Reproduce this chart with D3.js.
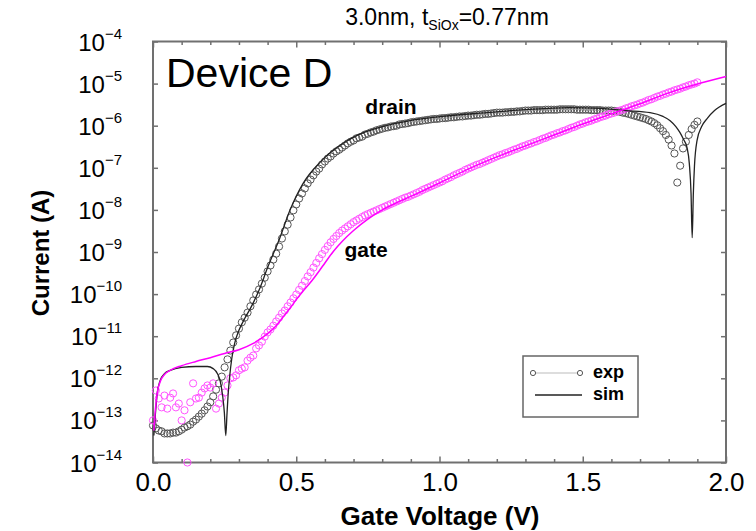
<!DOCTYPE html>
<html>
<head>
<meta charset="utf-8">
<script src="https://cdn.jsdelivr.net/npm/d3@7"></script>
<style>
  body { margin: 0; background: #fff; }
  svg { display: block; font-family: "Liberation Sans", Arial, Helvetica, sans-serif; }
</style>
</head>
<body>
<svg id="chart" width="756" height="531"></svg>
<script>
// all currents are stored as log10(I / A)

// measured sweep, 10 mV steps from 0.00 V to 1.90 V
const expVg = d3.range(191).map(i => i / 100);

const drainExp = [
  -13.12,-13.19,-13.24,-13.26,-13.31,-13.31,-13.31,-13.29,-13.29,-13.26,
  -13.22,-13.17,-13.14,-13.10,-13.03,-12.98,-12.91,-12.84,-12.76,-12.67,
  -12.57,-12.43,-12.27,-12.12,-11.96,-11.74,-11.55,-11.34,-11.15,-10.98,
  -10.82,-10.67,-10.56,-10.44,-10.29,-10.15,-10.01,-9.89,-9.75,-9.61,
  -9.46,-9.32,-9.18,-9.04,-8.87,-8.68,-8.51,-8.35,-8.18,-8.01,
  -7.87,-7.73,-7.61,-7.49,-7.37,-7.28,-7.18,-7.09,-7.02,-6.92,
  -6.85,-6.78,-6.73,-6.66,-6.61,-6.57,-6.52,-6.47,-6.42,-6.38,
  -6.35,-6.30,-6.28,-6.26,-6.21,-6.19,-6.16,-6.14,-6.11,-6.09,
  -6.07,-6.05,-6.04,-6.02,-6.01,-6.00,-5.97,-5.96,-5.95,-5.94,
  -5.92,-5.91,-5.90,-5.89,-5.88,-5.87,-5.86,-5.85,-5.84,-5.84,
  -5.83,-5.82,-5.82,-5.81,-5.80,-5.80,-5.79,-5.78,-5.78,-5.77,
  -5.76,-5.76,-5.75,-5.74,-5.74,-5.73,-5.72,-5.72,-5.71,-5.70,
  -5.69,-5.69,-5.69,-5.68,-5.68,-5.67,-5.67,-5.66,-5.66,-5.65,
  -5.64,-5.64,-5.64,-5.63,-5.63,-5.63,-5.63,-5.62,-5.62,-5.62,
  -5.62,-5.62,-5.61,-5.61,-5.61,-5.61,-5.61,-5.61,-5.62,-5.62,
  -5.62,-5.62,-5.62,-5.63,-5.63,-5.63,-5.63,-5.64,-5.64,-5.64,
  -5.64,-5.65,-5.66,-5.67,-5.69,-5.70,-5.72,-5.74,-5.76,-5.78,
  -5.80,-5.82,-5.84,-5.87,-5.90,-5.94,-5.99,-6.06,-6.13,-6.22,
  -6.33,-6.47,-6.66,-7.35,-6.95,-6.54,-6.38,-6.22,-6.08,-5.98,-5.90
];

const gateExp = [
  -13.00,-12.29,-12.48,-12.69,-12.41,-12.72,-12.46,-12.36,-12.69,-12.60,
  -13.00,-12.76,-14.00,-12.57,-12.12,-12.48,-12.46,-12.34,-12.24,-12.17,
  -12.22,-12.12,-12.72,-12.60,-12.46,-12.34,-12.17,-12.00,-11.98,-11.93,
  -11.81,-11.77,-11.74,-11.58,-11.51,-11.46,-11.29,-11.22,-11.13,-11.01,
  -10.91,-10.84,-10.75,-10.65,-10.56,-10.46,-10.39,-10.29,-10.20,-10.10,
  -10.01,-9.90,-9.80,-9.69,-9.58,-9.48,-9.37,-9.26,-9.15,-9.05,
  -8.95,-8.86,-8.77,-8.69,-8.62,-8.55,-8.49,-8.44,-8.39,-8.34,
  -8.29,-8.25,-8.21,-8.17,-8.13,-8.10,-8.07,-8.04,-8.01,-7.98,
  -7.95,-7.92,-7.89,-7.86,-7.83,-7.80,-7.77,-7.74,-7.71,-7.69,
  -7.66,-7.63,-7.60,-7.57,-7.53,-7.50,-7.47,-7.44,-7.41,-7.38,
  -7.35,-7.32,-7.28,-7.25,-7.22,-7.18,-7.15,-7.12,-7.09,-7.05,
  -7.02,-6.99,-6.96,-6.93,-6.91,-6.88,-6.85,-6.82,-6.79,-6.76,
  -6.73,-6.70,-6.68,-6.65,-6.63,-6.60,-6.57,-6.55,-6.52,-6.49,
  -6.47,-6.44,-6.42,-6.39,-6.37,-6.34,-6.31,-6.29,-6.26,-6.23,
  -6.21,-6.18,-6.16,-6.13,-6.11,-6.08,-6.05,-6.03,-6.00,-5.97,
  -5.95,-5.92,-5.90,-5.88,-5.85,-5.83,-5.80,-5.78,-5.76,-5.73,
  -5.71,-5.69,-5.66,-5.64,-5.62,-5.59,-5.57,-5.54,-5.52,-5.50,
  -5.47,-5.45,-5.42,-5.39,-5.37,-5.34,-5.31,-5.29,-5.26,-5.24,
  -5.21,-5.19,-5.16,-5.14,-5.12,-5.09,-5.07,-5.04,-5.02,-5.00,-4.97
];

// simulation curves
const drainSimVg = [0.003,0.008,0.015,0.025,0.04,0.06,0.10,0.15,0.19,0.21,
  0.225,0.235,0.243,0.249,0.254,0.258,0.262,0.268,0.275,0.285,
  0.30,0.32,0.34,0.37,0.40,0.443,0.478,0.524,0.583,0.642,
  0.712,0.792,0.897,1.012,1.166,1.30,1.45,1.56,1.65,1.735,
  1.78,1.805,1.825,1.839,1.852,1.864,1.872,1.878,1.882,1.886,
  1.890,1.899,1.915,1.934,1.96,2.00];
const drainSim = [-13.36,-12.88,-12.34,-12.05,-11.89,-11.81,-11.74,-11.72,-11.72,-11.77,
  -11.89,-12.08,-12.41,-12.81,-13.36,-12.88,-12.41,-11.93,-11.53,-11.17,
  -10.86,-10.58,-10.34,-9.91,-9.37,-8.66,-8.01,-7.37,-6.87,-6.52,
  -6.23,-6.04,-5.88,-5.78,-5.69,-5.62,-5.57,-5.59,-5.64,-5.69,
  -5.78,-5.88,-6.02,-6.16,-6.33,-6.52,-6.90,-7.61,-8.66,-7.61,
  -6.95,-6.35,-6.02,-5.83,-5.64,-5.47];

const gateSimVg = [0.003,0.008,0.015,0.025,0.04,0.06,0.10,0.15,0.20,0.25,
  0.30,0.35,0.40,0.43,0.45,0.48,0.50,0.52,0.55,0.58,
  0.60,0.63,0.66,0.70,0.75,0.80,0.85,0.90,1.00,1.10,
  1.20,1.30,1.40,1.50,1.60,1.70,1.80,1.90,2.00];
const gateSim = [-13.24,-12.76,-12.34,-12.08,-11.91,-11.81,-11.70,-11.60,-11.51,-11.41,
  -11.32,-11.17,-10.94,-10.75,-10.58,-10.32,-10.13,-9.96,-9.72,-9.45,
  -9.26,-8.98,-8.75,-8.49,-8.22,-8.00,-7.83,-7.68,-7.36,-7.03,
  -6.74,-6.48,-6.22,-5.96,-5.72,-5.48,-5.22,-5.01,-4.83];

const xMajor = [0, 0.5, 1, 1.5, 2];
const xMinor = [0.1,0.2,0.3,0.4,0.6,0.7,0.8,0.9,1.1,1.2,1.3,1.4,1.6,1.7,1.8,1.9];
const decades = [-14,-13,-12,-11,-10,-9,-8,-7,-6,-5,-4];

const plotLeft = 153, plotRight = 726, plotTop = 41.5, plotBottom = 462.5;
const frameColor = "#707070";

const svg = d3.select("#chart");
const x = d3.scaleLinear().domain([0, 2]).range([plotLeft, plotRight]);
const y = d3.scaleLog().domain([1e-14, 1e-4]).range([plotBottom, plotTop]);

const toPts = (vs, ls) => vs.map((v, i) => [v, Math.pow(10, ls[i])]);

// ticks (all pointing inwards)
function styleTicks(g) {
  g.select(".domain").remove();
  g.selectAll(".tick line").attr("stroke", frameColor).attr("stroke-width", 1.5);
}
svg.append("g").attr("transform", `translate(0,${plotBottom})`)
  .call(d3.axisBottom(x).tickValues(xMinor).tickSize(-3.5).tickFormat(""))
  .call(styleTicks);
svg.append("g").attr("transform", `translate(0,${plotTop})`)
  .call(d3.axisTop(x).tickValues(xMinor).tickSize(-3.5).tickFormat(""))
  .call(styleTicks);
svg.append("g").attr("transform", `translate(0,${plotTop})`)
  .call(d3.axisTop(x).tickValues(xMajor).tickSize(-6).tickFormat(""))
  .call(styleTicks);
svg.append("g").attr("transform", `translate(0,${plotBottom})`)
  .call(d3.axisBottom(x).tickValues(xMajor).tickSize(-6).tickPadding(10).tickFormat(d3.format(".1f")))
  .call(styleTicks)
  .call(g => g.selectAll(".tick text").attr("font-size", 26).attr("fill", "#000")
    .attr("font-family", "Liberation Sans, Arial, sans-serif"));

const yVals = decades.map(d => Math.pow(10, d));
svg.append("g").attr("transform", `translate(${plotRight},0)`)
  .call(d3.axisRight(y).tickValues(yVals).tickSize(-5).tickFormat(""))
  .call(styleTicks);
const yAxis = svg.append("g").attr("transform", `translate(${plotLeft},0)`)
  .call(d3.axisLeft(y).tickValues(yVals).tickSize(-5).tickFormat(""))
  .call(styleTicks);
yAxis.selectAll(".tick").each(function (d) {
  const t = d3.select(this).select("text")
    .attr("x", -31).attr("dy", null).attr("y", 8.5)
    .attr("text-anchor", "end").attr("fill", "#000")
    .attr("font-size", 24).attr("font-family", "Liberation Sans, Arial, sans-serif");
  t.text(null);
  t.append("tspan").text("10");
  t.append("tspan").attr("font-size", 15).attr("dy", -12)
    .text("\u2212" + Math.abs(Math.round(Math.log10(d))));
});

// frame
svg.append("rect").attr("x", plotLeft).attr("y", plotTop)
  .attr("width", plotRight - plotLeft).attr("height", plotBottom - plotTop)
  .attr("fill", "none").attr("stroke", frameColor).attr("stroke-width", 2);

// measured points
const plot = svg.append("g");
plot.selectAll(".dexp").data(toPts(expVg, drainExp)).enter()
  .append("circle").attr("class", "dexp")
  .attr("cx", d => x(d[0])).attr("cy", d => y(d[1])).attr("r", 3.6)
  .attr("fill", "none").attr("stroke", "#555").attr("stroke-width", 1);
plot.selectAll(".gexp").data(toPts(expVg, gateExp)).enter()
  .append("circle").attr("class", "gexp")
  .attr("cx", d => x(d[0])).attr("cy", d => y(d[1])).attr("r", 3.6)
  .attr("fill", "none").attr("stroke", "#ff55ff").attr("stroke-width", 1);

// simulated curves
const line = d3.line().x(d => x(d[0])).y(d => y(d[1])).curve(d3.curveMonotoneX);
plot.append("path").datum(toPts(drainSimVg, drainSim))
  .attr("d", line).attr("fill", "none").attr("stroke", "#222").attr("stroke-width", 1.3);
plot.append("path").datum(toPts(gateSimVg, gateSim))
  .attr("d", line).attr("fill", "none").attr("stroke", "#ff00ff").attr("stroke-width", 1.5);

// texts
svg.append("text").attr("x", 447).attr("y", 25).attr("text-anchor", "middle")
  .attr("font-size", 23)
  .call(t => {
    t.append("tspan").text("3.0nm, t");
    t.append("tspan").attr("font-size", 14).attr("dy", 5).text("SiOx");
    t.append("tspan").attr("dy", -5).text("=0.77nm");
  });
svg.append("text").attr("x", 166).attr("y", 87).attr("font-size", 41).text("Device D");
svg.append("text").attr("x", 391).attr("y", 114).attr("text-anchor", "middle")
  .attr("font-size", 21).attr("font-weight", "bold").text("drain");
svg.append("text").attr("x", 366).attr("y", 257).attr("text-anchor", "middle")
  .attr("font-size", 21).attr("font-weight", "bold").text("gate");

svg.append("text").attr("x", 440).attr("y", 525).attr("text-anchor", "middle")
  .attr("font-size", 26).attr("font-weight", "bold").text("Gate Voltage (V)");
svg.append("text").attr("transform", "translate(49,253) rotate(-90)")
  .attr("text-anchor", "middle").attr("font-size", 24).attr("font-weight", "bold")
  .text("Current (A)");

// legend
const lg = svg.append("g");
lg.append("rect").attr("x", 523).attr("y", 356).attr("width", 115).attr("height", 61)
  .attr("fill", "#fff").attr("stroke", "#666").attr("stroke-width", 1.5);
lg.append("line").attr("x1", 533).attr("x2", 580).attr("y1", 373).attr("y2", 373)
  .attr("stroke", "#aaa").attr("stroke-width", 0.8);
lg.selectAll(".lc").data([533, 580]).enter().append("circle")
  .attr("cx", d => d).attr("cy", 373).attr("r", 2.6)
  .attr("fill", "#fff").attr("stroke", "#555").attr("stroke-width", 1);
lg.append("line").attr("x1", 535).attr("x2", 582).attr("y1", 395).attr("y2", 395)
  .attr("stroke", "#222").attr("stroke-width", 1.5);
lg.append("text").attr("x", 593).attr("y", 378).attr("font-size", 18)
  .attr("font-weight", "bold").text("exp");
lg.append("text").attr("x", 593).attr("y", 400).attr("font-size", 18)
  .attr("font-weight", "bold").text("sim");
</script>
</body>
</html>
